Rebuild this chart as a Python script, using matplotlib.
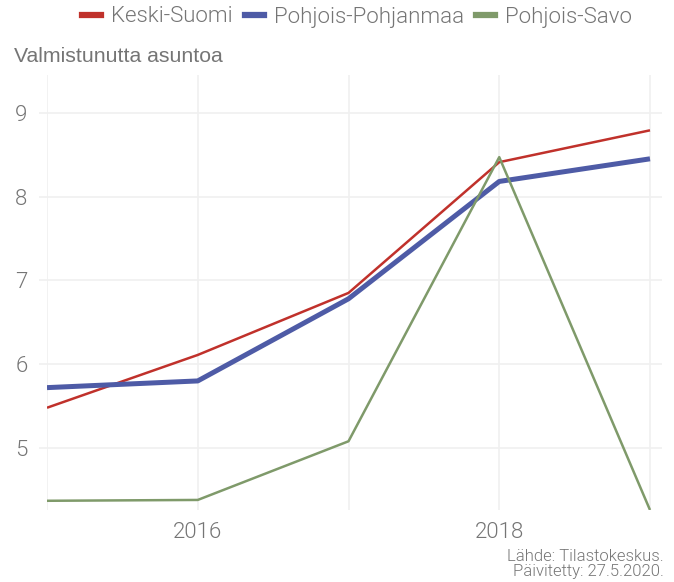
import numpy as np
import matplotlib
matplotlib.use("Agg")
import matplotlib.pyplot as plt
from matplotlib.lines import Line2D

years = [2015, 2016, 2017, 2018, 2019]
keski_suomi = [5.48, 6.11, 6.85, 8.41, 8.79]
pohjois_pohjanmaa = [5.72, 5.80, 6.78, 8.18, 8.45]
pohjois_savo = [4.37, 4.38, 5.08, 8.47, 4.26]
series_names = ["Keski-Suomi", "Pohjois-Pohjanmaa", "Pohjois-Savo"]

colors = ["#c0312b", "#4e5ba6", "#7f9a6a"]
widths = [1.8, 3.6, 1.8]
sans = ["Roboto", "DejaVu Sans"]
txt = "#757575"

fig = plt.figure(figsize=(6.74, 5.82), dpi=100)
W, H = 674, 582
ax = fig.add_axes([47 / W, 1 - 510 / H, (662 - 47) / W, (510 - 75) / H])

for vals, c, lw in zip([keski_suomi, pohjois_pohjanmaa, pohjois_savo], colors, widths):
    ax.plot(years, vals, color=c, lw=lw, solid_capstyle="butt", zorder=3)

ax.set_xlim(2015, 2019 + 12 / 150.75)
ax.set_ylim(4.26, 9.45)
ax.set_xticks(years)
ax.set_xticklabels(["", "2016", "", "2018", ""])
ax.set_yticks([5, 6, 7, 8, 9])
ax.grid(True, color="#f0f0f0", lw=1.2)
for s in ax.spines.values():
    s.set_visible(False)
ax.tick_params(axis="x", length=0, pad=9, labelsize=16, labelcolor=txt)
ax.tick_params(axis="y", length=6, color="#f0f0f0", width=1.2, pad=8, labelsize=16, labelcolor=txt)
for lab in ax.get_xticklabels() + ax.get_yticklabels():
    lab.set_family(sans)
    lab.set_fontweight(300)

fig.text(14 / W, 1 - 57 / H, "Valmistunutta asuntoa", fontsize=15.3, color=txt,
         family=["Liberation Sans", "DejaVu Sans"], va="center", ha="left")

handles = [Line2D([], [], color=c, lw=4.5) for c in colors]
fig.legend(handles, series_names, loc="center", bbox_to_anchor=(357 / W, 1 - 17 / H),
           ncol=3, frameon=False, handlelength=0.86, handletextpad=0.45, columnspacing=0.55,
           prop={"family": sans, "size": 16, "weight": 300}, labelcolor=txt)

fig.text(664 / W, 1 - 564 / H, "Lähde: Tilastokeskus.\nPäivitetty: 27.5.2020.",
         ha="right", va="center", fontsize=12, color=txt, family=sans, fontweight=300,
         linespacing=1.05)

fig.savefig("out.png", dpi=100)
